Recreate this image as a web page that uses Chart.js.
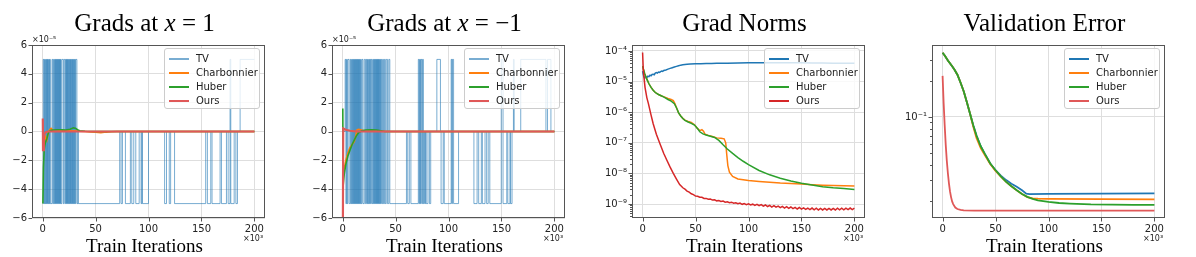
<!DOCTYPE html>
<html>
<head>
<meta charset="utf-8">
<script src="https://cdn.jsdelivr.net/npm/chart.js@4.4.0/dist/chart.umd.min.js"></script>
<style>
  body { margin: 0; width: 1196px; height: 257px; background: #fff; position: relative; overflow: hidden; font-family: "DejaVu Sans", sans-serif; }
  canvas { position: absolute; top: 30px; }
  .title { position: absolute; top: 10px; width: 300px; text-align: center; font-family: "Liberation Serif", serif; font-size: 25px; line-height: 25px; color: #000; white-space: nowrap; }
  .xlabel { position: absolute; top: 236px; width: 300px; text-align: center; font-family: "Liberation Serif", serif; font-size: 19px; line-height: 19px; color: #000; white-space: nowrap; }
  .offset { position: absolute; font-size: 8px; line-height: 8px; color: #222; white-space: nowrap; }
  .legend { position: absolute; width: 94px; height: 59px; border: 1px solid #ccc; border-radius: 3px; background: rgba(255,255,255,0.8); }
  .legend .ln { position: absolute; left: 4px; width: 20px; }
  .legend .tx { position: absolute; left: 31px; font-size: 10px; line-height: 14px; height: 14px; color: #222; white-space: nowrap; }
</style>
</head>
<body>
<script>
// x values are training iterations in thousands (axis shows x10^3)
const iterTicks = [0, 50, 100, 150, 200];
// first two panels: gradient values in units of 1e-5 (axis shows x10^-5)
const gradTicks = [-6, -4, -2, 0, 2, 4, 6];
const seriesNames = ['TV', 'Charbonnier', 'Huber', 'Ours'];

// ---- Grads at x = 1 ----
const tvPosX = [0.3, 0.6, 1.3, 1.9, 2.4, 3.0, 3.4, 3.9, 4.4, 4.8, 5.3, 5.9, 6.3, 6.8, 7.3, 8.9, 9.6, 10.4, 11.0, 11.5,
  12.0, 12.4, 12.9, 13.3, 13.8, 14.2, 14.7, 15.1, 15.6, 16.0, 16.5, 16.9, 17.4, 18.2, 19.6, 20.4, 21.4, 21.9, 22.4, 22.8,
  23.3, 23.7, 24.2, 24.7, 25.1, 25.6, 26.1, 26.5, 27.0, 27.5, 28.0, 28.4, 28.9, 29.4, 29.8, 30.3, 30.8, 31.3, 32.4,
  33.3, 33.7, 72.8, 74.1, 75.4, 78.2, 82.9, 84.2, 86.1, 88.0, 91.2, 93.0, 93.7, 94.3, 100.0, 115.2, 117.0, 119.6, 120.9,
  124.6, 154.0, 155.6, 158.8, 160.0, 167.6, 168.9, 173.6, 175.2, 177.0, 177.7, 180.9, 182.5, 184.0, 186.5, 200];
const tvPosY = [-5, 5, -5, 5, -5, 5, -5, 5, -5, 5, -5, 5, -5, 5, -5, 5, -5, 5, -5, 5,
  -5, 5, -5, 5, -5, 5, -5, 5, -5, 5, -5, 5, -5, 5, -5, 5, -5, 5, -5, 5,
  -5, 5, -5, 5, -5, 5, -5, 5, -5, 5, -5, 5, -5, 5, -5, 5, -5, 5, -5,
  0, -5, 0, -5, 0, -5, 0, -5, 0, -5, 0, -5, 0, -5, 0, -5, 0, -5, 0,
  -5, 0, -5, 0, -5, 0, -5, 0, -5, 5, -5, 0, -5, 0, 5, 5];
const charbPosX = [0.4, 1, 2, 3, 4, 5, 6, 7, 8, 9, 10, 12, 15, 20, 25, 30, 35, 40, 45, 50, 55, 60, 65, 70, 200];
const charbPosY = [-1.0, -1.0, -0.7, -0.4, -0.6, -0.2, 0.05, 0.15, 0.22, 0.15, 0.05, 0.0, 0.05, 0.05, 0.04, 0.05, 0.02, 0.0, -0.03, -0.05, -0.08, -0.04, -0.02, 0, 0];
const huberPosX = [0.3, 0.8, 1.5, 2.5, 4, 5, 6, 8, 10, 14, 18, 22, 26, 29, 31, 33, 35, 40, 50, 200];
const huberPosY = [-5, -2.5, -1.3, -0.8, -0.5, -0.2, 0.0, 0.08, 0.1, 0.12, 0.12, 0.1, 0.15, 0.25, 0.22, 0.12, 0.05, 0.02, 0, 0];
const oursPosX = [0.2, 0.4, 1.2, 2, 3, 5, 200];
const oursPosY = [0.9, -1.3, -0.3, -0.15, -0.05, 0, 0];

// ---- Grads at x = -1 ----
const tvNegX = [0, 2.4, 3.1, 3.8, 4.3, 5.0, 6.2, 7.4, 8.0, 8.6, 9.1, 9.6, 10.1, 10.6, 11.0, 11.5, 11.9, 12.4, 12.8, 13.3, 13.7,
  14.2, 14.6, 15.1, 15.5, 16.0, 16.5, 17.0, 17.6, 18.3, 19.2, 20.5, 21.6, 22.4, 23.0, 23.6, 24.1, 24.7, 25.3, 25.8, 26.4,
  27.1, 27.8, 28.5, 29.2, 29.7, 30.2, 30.7, 31.2, 31.6, 32.1, 32.5, 33.0, 33.4, 33.9, 34.3, 34.8, 35.3, 35.8, 36.4, 37.0,
  37.8, 38.6, 39.5, 40.3, 41.2, 42.4, 43.6, 44.6,
  60.3, 61.5, 63.0, 64.5, 71.5, 72.3, 72.8, 73.5, 74.0, 74.8, 75.5, 76.3, 77.0, 77.6, 78.3, 79.0, 80.6, 82.0, 83.2,
  89.0, 92.4, 93.0, 95.0, 96.0, 102.5, 103.2, 103.7, 104.8, 109.5, 124.0, 127.0, 128.5, 131.0, 132.0, 134.5, 136.0,
  137.5, 139.0, 149.8, 151.5, 155.0, 156.0, 158.0, 158.6, 160.0, 161.3, 162.0, 168.2, 192.0, 193.5, 196.7, 200];
const tvNegY = [0, 5, -5, 5, -5, 5, -5, 5, -5, 5, -5, 5, -5, 5, -5, 5, -5, 5, -5, 5, -5,
  5, -5, 5, -5, 5, -5, 5, -5, 5, -5, 5, -5, 5, -5, 5, -5, 5, -5, 5, -5,
  5, -5, 5, -5, 5, -5, 5, -5, 5, -5, 5, -5, 5, -5, 5, -5, 5, -5, 5, -5,
  5, -5, 5, -5, 5, -5, 5, -5,
  0, -5, 0, -5, 5, -5, 5, -5, 5, -5, 5, -5, 0, -5, 0, -5, 0, -5, 0,
  5, 0, -5, 0, -5, 5, -5, 5, -5, 0, -5, 0, -5, 0, -5, 0, -5,
  0, -5, 5, -5, 0, -5, 0, -5, 0, 5, 0, 5, 0, 5, 0, 0];
const charbNegX = [0.5, 1.5, 3, 5, 7, 9, 11, 12.5, 13.5, 15, 17, 20, 30, 40, 200];
const charbNegY = [-3.3, -2.6, -2.0, -1.5, -1.1, -0.9, -0.7, -0.3, 0.1, 0.15, 0.12, 0.05, 0.03, 0, 0];
const huberNegX = [0.2, 0.5, 1.5, 3, 5, 7, 9, 11, 13, 15, 18, 22, 27, 32, 36, 40, 200];
const huberNegY = [1.6, -3.8, -3.0, -2.3, -1.7, -1.3, -0.9, -0.6, -0.3, -0.1, 0.05, 0.1, 0.12, 0.1, 0.05, 0, 0];
const oursNegX = [0.3, 0.6, 2, 4, 7, 10, 15, 200];
const oursNegY = [-6, 0.2, 0.15, 0.1, 0.05, 0.02, 0, 0];

// ---- Grad Norms ----
const tvNormX = [0, 1, 2, 3, 4, 5, 6, 7, 8, 9, 10, 11, 12, 13, 14, 15, 16, 17, 18, 19, 20, 22, 24, 26, 28, 30, 32, 34, 36, 38,
  40, 42, 45, 50, 55, 60, 65, 70, 80, 90, 100, 110, 120, 130, 140, 150, 160, 170, 180, 190, 200];
const tvNormY = [2.2e-5, 1.5e-5, 1.3e-5, 1.45e-5, 1.35e-5, 1.5e-5, 1.45e-5, 1.62e-5, 1.55e-5, 1.72e-5, 1.75e-5, 1.68e-5,
  1.9e-5, 1.97e-5, 1.9e-5, 2.05e-5, 2.0e-5, 2.12e-5, 2.2e-5, 2.15e-5, 2.3e-5, 2.4e-5, 2.55e-5, 2.7e-5, 2.85e-5, 3.0e-5,
  3.15e-5, 3.3e-5, 3.45e-5, 3.55e-5, 3.65e-5, 3.7e-5, 3.75e-5, 3.8e-5, 3.85e-5, 3.9e-5, 3.9e-5, 3.95e-5, 4.0e-5, 4.05e-5,
  4.1e-5, 4.1e-5, 4.1e-5, 4.1e-5, 4.1e-5, 4.1e-5, 4.05e-5, 4.05e-5, 4.0e-5, 4.0e-5, 4.0e-5];
const charbNormX = [0, 2, 4, 6, 8, 10, 12, 15, 18, 21, 24, 27, 29, 30.5, 32, 34, 36, 38, 40, 43, 46, 49, 52, 54, 56, 57.5,
  59, 62, 66, 70, 74, 77, 78.5, 79.5, 80.5, 82, 85, 90, 100, 110, 120, 130, 140, 150, 160, 170, 180, 190, 200];
const charbNormY = [3.2e-5, 1.8e-5, 1.2e-5, 8.5e-6, 6.5e-6, 5.2e-6, 4.4e-6, 3.8e-6, 3.4e-6, 3.1e-6, 2.8e-6, 2.6e-6, 2.4e-6,
  1.9e-6, 1.4e-6, 9.5e-7, 7.5e-7, 6.3e-7, 5.5e-7, 5.0e-7, 4.6e-7, 3.9e-7, 2.9e-7, 2.5e-7, 2.7e-7, 2.4e-7, 1.9e-7, 1.75e-7,
  1.6e-7, 1.45e-7, 1.4e-7, 1.35e-7, 1.0e-7, 4e-8, 1.8e-8, 1.1e-8, 8e-9, 6.6e-9, 5.9e-9, 5.5e-9, 5.2e-9, 4.9e-9, 4.7e-9,
  4.5e-9, 4.3e-9, 4.15e-9, 4.05e-9, 3.95e-9, 3.9e-9];
const huberNormX = [0, 2, 4, 6, 8, 10, 12, 15, 18, 21, 24, 27, 30, 32, 34, 36, 38, 40, 43, 46, 49, 52, 54, 57, 60, 64, 68,
  72, 76, 80, 85, 90, 95, 100, 110, 120, 130, 140, 150, 160, 170, 180, 190, 200];
const huberNormY = [3.2e-5, 1.8e-5, 1.2e-5, 8.5e-6, 6.5e-6, 5.2e-6, 4.4e-6, 3.8e-6, 3.4e-6, 3.0e-6, 2.6e-6, 2.3e-6, 1.9e-6,
  1.4e-6, 9.5e-7, 7.5e-7, 6.2e-7, 5.4e-7, 4.8e-7, 4.3e-7, 3.8e-7, 2.9e-7, 2.3e-7, 1.95e-7, 1.8e-7, 1.65e-7, 1.5e-7, 1.2e-7,
  8.6e-8, 6.3e-8, 4.5e-8, 3.3e-8, 2.5e-8, 1.95e-8, 1.25e-8, 9e-9, 7e-9, 5.7e-9, 4.8e-9, 4.2e-9, 3.7e-9, 3.4e-9, 3.2e-9, 3.0e-9];
const oursNormX = [0, 0.7, 2.3, 4, 5.5, 8, 10, 13, 16.4, 20, 22.7, 26, 29, 32, 35, 38,
  40, 42, 44, 46, 48, 50, 52, 54, 56, 58, 60, 62, 64, 66, 68, 70, 72, 74, 76, 78, 80, 82, 84, 86, 88, 90, 92, 94, 96, 98,
  100, 102, 104, 106, 108, 110, 112, 114, 116, 118, 120, 122, 124, 126, 128, 130, 132, 134, 136, 138, 140, 142, 144, 146,
  148, 150, 152, 154, 156, 158, 160, 162, 164, 166, 168, 170, 172, 174, 176, 178, 180, 182, 184, 186, 188, 190, 192, 194,
  196, 198, 200];
const oursNormY = [8.9e-5, 2.2e-5, 6.5e-6, 3e-6, 1.9e-6, 8e-7, 4.2e-7, 1.9e-7, 9.3e-8, 4.5e-8, 2.8e-8, 1.6e-8, 1e-8, 6.5e-9, 4.3e-9, 3.4e-9,
  3.05e-9, 2.66e-9, 2.44e-9, 2.17e-9, 2.03e-9, 1.82e-9, 1.80e-9, 1.68e-9, 1.66e-9, 1.53e-9, 1.53e-9, 1.43e-9, 1.46e-9,
  1.35e-9, 1.37e-9, 1.27e-9, 1.30e-9, 1.21e-9, 1.25e-9, 1.15e-9, 1.18e-9, 1.10e-9, 1.15e-9, 1.06e-9, 1.10e-9, 1.02e-9,
  1.07e-9, 9.8e-10, 1.04e-9, 9.6e-10, 1.02e-9, 9.3e-10, 9.9e-10, 9.0e-10, 9.8e-10, 8.8e-10, 9.6e-10, 8.5e-10, 9.3e-10,
  8.3e-10, 9.1e-10, 8.0e-10, 8.9e-10, 7.9e-10, 8.6e-10, 7.6e-10, 8.4e-10, 7.4e-10, 8.2e-10, 7.2e-10, 8.0e-10, 7.1e-10,
  7.8e-10, 6.9e-10, 7.7e-10, 6.8e-10, 7.5e-10, 6.7e-10, 7.4e-10, 6.6e-10, 7.4e-10, 6.5e-10, 7.3e-10, 6.4e-10, 7.2e-10,
  6.4e-10, 7.2e-10, 6.4e-10, 7.2e-10, 6.4e-10, 7.2e-10, 6.4e-10, 7.3e-10, 6.5e-10, 7.3e-10, 6.5e-10, 7.3e-10, 6.6e-10,
  7.4e-10, 6.6e-10, 7.3e-10];

// ---- Validation Error ----
const tvValX = [0, 2, 5, 8, 11, 14, 17, 20, 23, 26, 29, 32, 36, 40, 45, 50, 55, 60, 65, 70, 75, 79, 82, 100, 150, 200];
const tvValY = [0.343, 0.325, 0.296, 0.272, 0.25, 0.225, 0.193, 0.163, 0.132, 0.106, 0.085, 0.07, 0.057, 0.049, 0.041,
  0.036, 0.0325, 0.0298, 0.0278, 0.0262, 0.0245, 0.023, 0.0228, 0.0229, 0.023, 0.0231];
const charbValX = [0, 2, 5, 8, 11, 14, 17, 20, 23, 26, 29, 32, 36, 40, 45, 50, 55, 60, 65, 70, 75, 80, 85, 90, 100, 150, 200];
const charbValY = [0.343, 0.325, 0.296, 0.272, 0.25, 0.225, 0.193, 0.163, 0.132, 0.106, 0.083, 0.067, 0.055, 0.048, 0.0405,
  0.0355, 0.0318, 0.0288, 0.0265, 0.0245, 0.0228, 0.0215, 0.021, 0.0209, 0.0208, 0.0207, 0.0206];
const huberValX = [0, 2, 5, 8, 11, 14, 17, 20, 23, 26, 29, 32, 36, 40, 45, 50, 55, 60, 65, 70, 75, 80, 85, 90, 100, 110,
  120, 140, 160, 180, 200];
const huberValY = [0.343, 0.325, 0.296, 0.272, 0.25, 0.225, 0.193, 0.163, 0.132, 0.106, 0.085, 0.07, 0.057, 0.049, 0.041,
  0.036, 0.032, 0.0288, 0.0265, 0.0245, 0.0228, 0.0216, 0.0208, 0.0202, 0.0196, 0.0192, 0.019, 0.0187, 0.0186, 0.0185, 0.0185];
const oursValX = [0, 1, 2, 3, 4, 5, 6, 7, 8, 9, 10, 12, 14, 17, 20, 30, 60, 100, 150, 200];
const oursValY = [0.22, 0.13, 0.085, 0.058, 0.043, 0.034, 0.028, 0.024, 0.0215, 0.0198, 0.0188, 0.0176, 0.0171, 0.0168,
  0.0167, 0.0166, 0.0166, 0.0166, 0.0166, 0.0166];

const SPINE = '#555';
const GRID = '#dedede';
const TICKTXT = '#222';
const SUP = { '-': '⁻', '0': '⁰', '1': '¹', '2': '²', '3': '³', '4': '⁴', '5': '⁵', '6': '⁶', '7': '⁷', '8': '⁸', '9': '⁹' };
const sup = s => String(s).split('').map(c => SUP[c]).join('');
const isPow10 = v => Math.abs(Math.log10(v) - Math.round(Math.log10(v))) < 1e-6;

function logTicks(lo, hi) {
  const out = [];
  for (let e = Math.floor(Math.log10(lo)); e <= Math.ceil(Math.log10(hi)); e++) {
    for (let m = 1; m <= 9; m++) {
      const v = m * Math.pow(10, e);
      if (v >= lo && v <= hi) out.push(v);
    }
  }
  return out;
}

const frame = {
  id: 'frame',
  afterDraw(chart) {
    const ctx = chart.ctx, a = chart.chartArea;
    ctx.save();
    ctx.strokeStyle = SPINE;
    ctx.lineWidth = 1;
    const xs = chart.scales.x, ys = chart.scales.y;
    ctx.beginPath();
    xs.ticks.forEach(t => {
      const p = Math.round(xs.getPixelForValue(t.value)) + 0.5;
      ctx.moveTo(p, a.bottom); ctx.lineTo(p, a.bottom + 3.5);
    });
    ys.ticks.forEach(t => {
      const p = Math.round(ys.getPixelForValue(t.value)) + 0.5;
      const len = ys.type === 'logarithmic' && !isPow10(t.value) ? 2 : 3.5;
      ctx.moveTo(a.left, p); ctx.lineTo(a.left - len, p);
    });
    ctx.stroke();
    ctx.strokeRect(Math.round(a.left) + 0.5, Math.round(a.top) + 0.5, Math.round(a.right - a.left) - 1, Math.round(a.bottom - a.top) - 1);
    ctx.restore();
  }
};

function pts(xs, ys) { return xs.map((x, i) => ({ x: x, y: ys[i] })); }

function addText(cls, html, left, top, width) {
  const d = document.createElement('div');
  d.className = cls;
  d.innerHTML = html;
  d.style.left = left + 'px';
  d.style.top = top + 'px';
  if (width) d.style.width = width + 'px';
  document.body.appendChild(d);
  return d;
}

function addLegend(plotRight, colors, widths) {
  const box = addText('legend', '', plotRight - 101, 48);
  seriesNames.forEach((name, i) => {
    const w = Math.max(widths[i], 1.5);
    const ln = document.createElement('div');
    ln.className = 'ln';
    ln.style.top = (3 + i * 14 + 7 - w / 2) + 'px';
    ln.style.height = w + 'px';
    ln.style.background = colors[i];
    box.appendChild(ln);
    const tx = document.createElement('div');
    tx.className = 'tx';
    tx.style.top = (3 + i * 14) + 'px';
    tx.textContent = name;
    box.appendChild(tx);
  });
}

function makePanel(p) {
  const plotW = 233;
  const canvas = document.createElement('canvas');
  canvas.width = 279;
  canvas.height = 215;
  canvas.style.left = (p.left - 31) + 'px';
  document.body.appendChild(canvas);

  // lower order = drawn later (on top): Ours on top, TV at the bottom
  const datasets = p.series.map((s, i) => ({
    label: seriesNames[i],
    data: pts(s[0], s[1]),
    borderColor: p.colors[i],
    borderWidth: p.widths[i],
    pointRadius: 0,
    fill: false,
    tension: 0,
    stepped: !!(p.stepped && i === 0),
    order: 3 - i
  }));

  const yLog = p.yType === 'logarithmic';
  new Chart(canvas, {
    type: 'line',
    data: { datasets: datasets },
    options: {
      responsive: false,
      animation: false,
      events: [],
      layout: { padding: { left: 0, top: 15, right: 15, bottom: 0 } },
      plugins: { legend: { display: false }, tooltip: { enabled: false } },
      scales: {
        x: {
          type: 'linear', min: -10, max: 210,
          afterBuildTicks: s => { s.ticks = iterTicks.map(v => ({ value: v })); },
          afterFit: s => { s.height = 27; },
          border: { display: false },
          grid: { color: GRID, lineWidth: 1, drawTicks: false },
          ticks: { color: TICKTXT, font: { family: 'DejaVu Sans', size: 10 }, padding: 5, maxRotation: 0, autoSkip: false, callback: v => String(v) }
        },
        y: {
          type: p.yType, min: p.yMin, max: p.yMax,
          afterBuildTicks: s => { s.ticks = p.yTicks.map(v => ({ value: v })); },
          afterFit: s => { s.width = 31; },
          border: { display: false },
          grid: { color: c => (!yLog || (c.tick && isPow10(c.tick.value))) ? GRID : 'rgba(0,0,0,0)', lineWidth: 1, drawTicks: false },
          ticks: { color: TICKTXT, font: { family: 'DejaVu Sans', size: 10 }, padding: 5, autoSkip: false, callback: p.yLabel }
        }
      }
    },
    plugins: [frame]
  });

  const cx = p.left + plotW / 2 - 4;
  addText('title', p.title, cx - 150, 10, 300);
  addText('xlabel', 'Train Iterations', cx - 150, 236, 300);
  addText('offset', '×10' + sup(3), p.left + plotW - 22, 235);
  if (p.offsetY) addText('offset', '×10' + sup(p.offsetY), p.left, 36);
  addLegend(p.left + plotW, p.colors, p.widths);
}

const gradLabel = v => (v < 0 ? '−' + Math.abs(v) : String(v));
const logLabel = v => (isPow10(v) ? '10' + sup(Math.round(Math.log10(v))) : '');

const fadedColors = ['rgba(31,119,180,0.6)', '#ff7f0e', '#2ca02c', '#e05858'];

makePanel({
  left: 32, title: 'Grads at <i>x</i> = 1', stepped: true, offsetY: -5,
  yType: 'linear', yMin: -6, yMax: 6, yTicks: gradTicks, yLabel: gradLabel,
  colors: fadedColors, widths: [1, 1.6, 1.6, 2.2],
  series: [[tvPosX, tvPosY], [charbPosX, charbPosY], [huberPosX, huberPosY], [oursPosX, oursPosY]]
});
makePanel({
  left: 332, title: 'Grads at <i>x</i> = −1', stepped: true, offsetY: -5,
  yType: 'linear', yMin: -6, yMax: 6, yTicks: gradTicks, yLabel: gradLabel,
  colors: fadedColors, widths: [1, 1.6, 1.6, 2.2],
  series: [[tvNegX, tvNegY], [charbNegX, charbNegY], [huberNegX, huberNegY], [oursNegX, oursNegY]]
});
makePanel({
  left: 632, title: 'Grad Norms',
  yType: 'logarithmic', yMin: 3.5e-10, yMax: 1.57e-4, yTicks: logTicks(3.5e-10, 1.57e-4), yLabel: logLabel,
  colors: ['#1f77b4', '#ff7f0e', '#2ca02c', '#d62728'], widths: [1.5, 1.5, 1.5, 1.5],
  series: [[tvNormX, tvNormY], [charbNormX, charbNormY], [huberNormX, huberNormY], [oursNormX, oursNormY]]
});
makePanel({
  left: 932, title: 'Validation Error',
  yType: 'logarithmic', yMin: 0.0144, yMax: 0.398, yTicks: logTicks(0.0144, 0.398), yLabel: logLabel,
  colors: ['#1f77b4', '#ff7f0e', '#2ca02c', '#e05858'], widths: [1.8, 1.8, 1.8, 1.8],
  series: [[tvValX, tvValY], [charbValX, charbValY], [huberValX, huberValY], [oursValX, oursValY]]
});
</script>
</body>
</html>
